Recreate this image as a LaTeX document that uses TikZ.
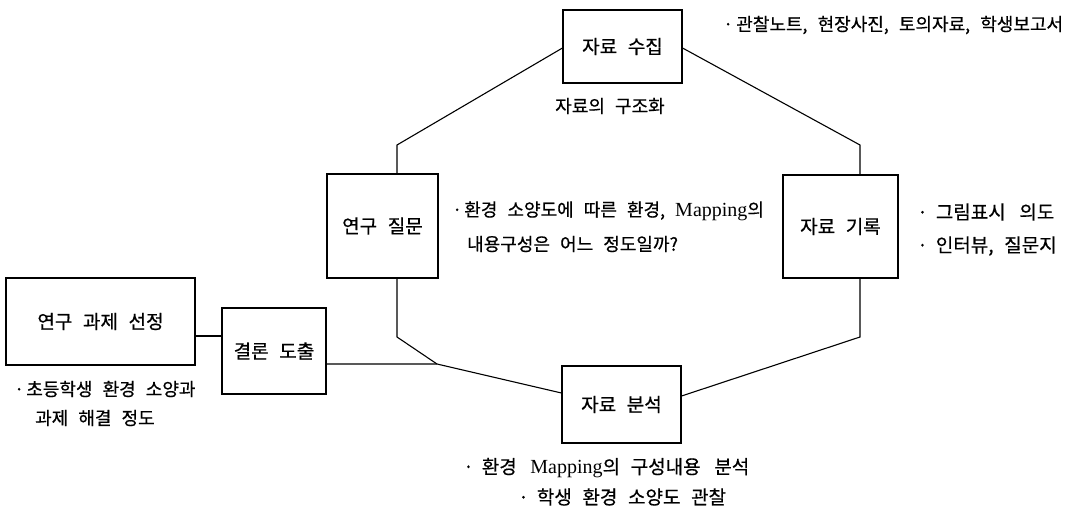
\documentclass[tikz,border=0pt]{standalone}
\usepackage{fontspec}
\setmainfont{Liberation Serif}
\newfontfamily\cjk[WordSpace=2.5,FakeBold=0.6]{Noto Sans CJK KR}
\newcommand\lat[1]{{\rmfamily\fontsize{20}{22}\selectfont #1}}
\begin{document}
\begin{tikzpicture}[x=1pt,y=-1pt,
  box/.style={draw, line width=1.1pt, inner sep=0pt, font=\cjk\fontsize{19}{22}\selectfont},
  note/.style={inner sep=0pt, anchor=west, font=\cjk\fontsize{18}{21}\selectfont},
  wide/.style={note, font=\cjk\fontsize{19}{22}\selectfont},
  link/.style={line width=1.1pt}]
\useasboundingbox (0,0) rectangle (1077,509);

% boxes
\node[box, minimum width=189, minimum height=87] (sel) at (100.5,321.5) {연구 과제 선정};
\node[box, minimum width=104, minimum height=86] (concl) at (274,351) {결론 도출};
\node[box, minimum width=119, minimum height=73] (coll) at (622.5,46.5) {자료 수집};
\node[box, minimum width=111, minimum height=104] (rq) at (382.5,226) {연구 질문};
\node[box, minimum width=115, minimum height=103] (rec) at (840.5,226.5) {자료 기록};
\node[box, minimum width=119, minimum height=77] (ana) at (621.5,404.5) {자료 분석};

% helper coordinates
\coordinate (J) at (437,364);
\coordinate (rqb) at (397,337);
\coordinate (rqt) at (397,145);
\coordinate (rect) at (860,145);
\coordinate (recb) at (860,337);
\coordinate (y48) at (0,48);
\coordinate (y336) at (0,336);
\coordinate (y393) at (0,393);
\coordinate (y396) at (0,396);

% connectors
\draw[link] (sel.east |- y336) -- (concl.west |- y336);
\draw[link] (concl.east |- J) -- (J) -- (ana.west |- y393);
\draw[link] (rq.south -| rqb) -- (rqb) -- (J);
\draw[link] (rq.north -| rqt) -- (rqt) -- (coll.west |- y48);
\draw[link] (coll.east |- y48) -- (rect) -- (rec.north -| rect);
\draw[link] (rec.south -| recb) -- (recb) -- (ana.east |- y396);

% notes
\node[note] (n1) at (723,25) {·\hspace{3pt}관찰노트, 현장사진, 토의자료, 학생보고서};
\node[note, anchor=center] (n2) at (610,106) {자료의 구조화};
\node[note] (n3) at (452,211) {·\hspace{2pt}환경 소양도에 따른 환경, \lat{Mapping}의};
\node[note] (n4) at (467,244) {내용구성은 어느 정도일까?};
\node[wide] (n5) at (917,212) {·\hspace{8pt}그림표시\hspace{3pt} 의도};
\node[wide] (n6) at (917,246) {·\hspace{8pt}인터뷰, 질문지};
\node[note] (n7) at (14,389) {·\hspace{2pt}초등학생 환경 소양과};
\node[note] (n8) at (35,418) {과제 해결 정도};
\node[wide] (n9) at (463,468) {·\hspace{8pt}환경\hspace{3pt} \lat{Mapping}의 구성내용\hspace{3pt} 분석};
\node[wide] (n10) at (518,497) {·\hspace{8pt}학생 환경 소양도 관찰};
\end{tikzpicture}
\end{document}
